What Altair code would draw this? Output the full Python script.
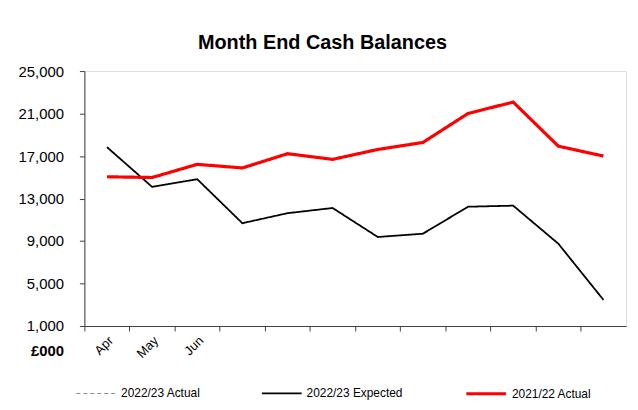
import altair as alt
import pandas as pd

months = ["Apr", "May", "Jun", "Jul", "Aug", "Sep", "Oct", "Nov", "Dec", "Jan", "Feb", "Mar"]
tick_labels = ["Apr", "May", "Jun", "", "", "", "", "", "", "", "", ""]
series_names = ["2022/23 Actual", "2022/23 Expected", "2021/22 Actual"]
actual_2223 = []
expected_2223 = [17840, 14100, 14820, 10680, 11620, 12110, 9380, 9690, 12230, 12330, 8750, 3460]
actual_2122 = [15050, 14980, 16220, 15880, 17220, 16690, 17620, 18280, 21010, 22080, 17930, 17000]
y_ticks = [1000, 5000, 9000, 13000, 17000, 21000, 25000]

rows = []
for name, vals in zip(series_names, [actual_2223, expected_2223, actual_2122]):
    for m, v in zip(months, vals):
        rows.append({"month": m, "value": v, "series": name})
df = pd.DataFrame(rows)

label_map = "{" + ",".join(f"'{m}':'{t}'" for m, t in zip(months, tick_labels)) + "}"

FONT = "Liberation Sans"


def legend():
    return alt.Legend(title=None, orient="none", legendX=-9, legendY=303,
                      direction="horizontal", symbolType="stroke", symbolSize=1600,
                      labelFontSize=12, labelFont=FONT, labelColor="black",
                      labelOffset=4, columnPadding=57)


chart = alt.Chart(df).mark_line().encode(
    x=alt.X("month:N", sort=months,
            scale=alt.Scale(type="band", paddingInner=0, paddingOuter=0),
            axis=alt.Axis(title=None, bandPosition=0, labelOffset=0,
                          labelExpr=f"{label_map}[datum.value]",
                          labelAngle=-45, labelAlign="right", labelBaseline="top",
                          labelFontSize=13, labelPadding=3, tickSize=5,
                          domainColor="#404040", tickColor="#404040", labelColor="black",
                          labelFont=FONT, grid=False)),
    y=alt.Y("value:Q", scale=alt.Scale(domain=[1000, 25000], nice=False, zero=False),
            axis=alt.Axis(values=y_ticks, format=",.0f", title="£000", titleAngle=0,
                          titleX=-21, titleY=282, titleAlign="right", titleBaseline="middle",
                          titleFontSize=15, titleFont=FONT, titleFontWeight="bold", titleColor="black",
                          labelFontSize=15, labelFont=FONT, labelColor="black", labelPadding=16,
                          tickSize=5, domainColor="#404040", tickColor="#404040", grid=False)),
    color=alt.Color("series:N", scale=alt.Scale(domain=series_names, range=["#8c8c8c", "black", "#ff0000"]),
                    legend=legend()),
    strokeDash=alt.StrokeDash("series:N", scale=alt.Scale(domain=series_names, range=[[4, 3], [1, 0], [1, 0]]),
                              legend=legend()),
    strokeWidth=alt.StrokeWidth("series:N",
                                scale=alt.Scale(type="ordinal", domain=series_names, range=[1.2, 1.8, 3.2]),
                                legend=legend()),
).properties(
    width=546, height=257,
    title=alt.Title("Month End Cash Balances", fontSize=20, font=FONT, fontWeight="bold",
                    color="black", anchor="middle", dx=-33, offset=11),
    autosize=alt.AutoSizeParams(type="none"),
    padding={"left": 77, "top": 62, "right": 4, "bottom": 73},
).configure_view(stroke=None).configure(background="white")

chart.save("out.html", embed_options={"renderer": "svg", "actions": False})
